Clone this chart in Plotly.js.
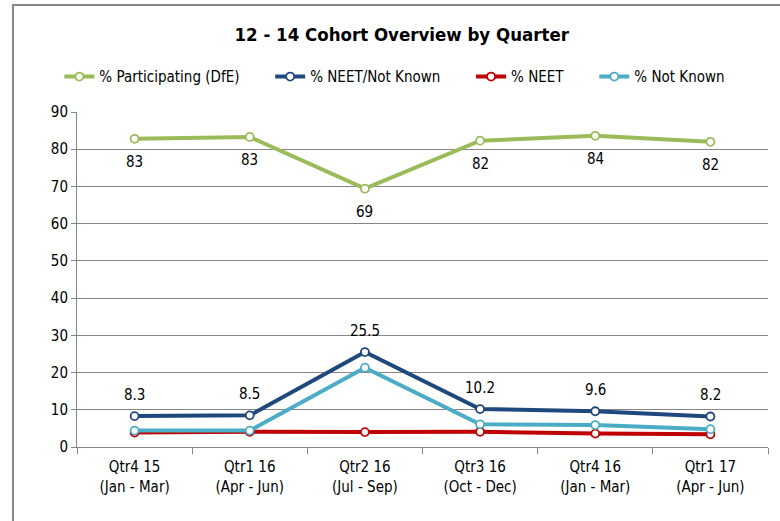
<!DOCTYPE html>
<html>
<head>
<meta charset="utf-8">
<script src="https://cdn.plot.ly/plotly-3.0.1.min.js"></script>
<style>
  body { margin: 0; background: #fff; }
  #chart { width: 780px; height: 521px; }
</style>
</head>
<body>
<div id="chart"></div>
<script>
// Quarters on the x axis
const quarters = [
    "Qtr4 15<br>(Jan - Mar)",
    "Qtr1 16<br>(Apr - Jun)",
    "Qtr2 16<br>(Jul - Sep)",
    "Qtr3 16<br>(Oct - Dec)",
    "Qtr4 16<br>(Jan - Mar)",
    "Qtr1 17<br>(Apr - Jun)"
];

// Series values
const participating = [82.8, 83.3, 69.4, 82.3, 83.6, 82.0];
const participatingLabels = ["83", "83", "69", "82", "84", "82"];
const neetNotKnown = [8.3, 8.5, 25.5, 10.2, 9.6, 8.2];
const neetNotKnownLabels = ["8.3", "8.5", "25.5", "10.2", "9.6", "8.2"];
const neet = [3.9, 4.1, 4.0, 4.1, 3.6, 3.4];
const notKnown = [4.4, 4.4, 21.3, 6.1, 5.9, 4.8];

const font = "'DejaVu Sans Condensed', Arial, sans-serif";
const pad = "\u00a0\u00a0\u00a0\u00a0\u00a0\u00a0";

function lineTrace(y, name, color) {
    return {
        x: quarters,
        y: y,
        name: name,
        type: "scatter",
        mode: "lines+markers",
        line: {color: color, width: 4},
        marker: {symbol: "circle", size: 8, color: "#ffffff", line: {color: color, width: 1.8}},
        cliponaxis: false
    };
}

// data labels placed above / below the points
function labels(y, text, shift) {
    return y.map((v, i) => ({
        x: quarters[i],
        y: v,
        text: text[i],
        showarrow: false,
        yshift: shift,
        font: {family: font, size: 15, color: "#000000"}
    }));
}

const data = [
    lineTrace(participating, "% Participating (DfE)" + pad, "#9BBB59"),
    lineTrace(neetNotKnown, "% NEET/Not Known" + pad, "#1F497D"),
    lineTrace(neet, "% NEET" + pad, "#C00000"),
    lineTrace(notKnown, "% Not Known", "#4BACC6")
];

const layout = {
    width: 780,
    height: 521,
    margin: {l: 77, r: 12, t: 112, b: 74},
    paper_bgcolor: "#ffffff",
    plot_bgcolor: "#ffffff",
    font: {family: font, size: 15, color: "#000000"},
    title: {
        text: "<b>12 - 14 Cohort Overview by Quarter</b>",
        font: {family: font, size: 18.5, color: "#000000"},
        x: 0.515, xanchor: "center",
        y: 0.933, yanchor: "middle"
    },
    showlegend: true,
    legend: {
        orientation: "h",
        x: 0.46, xanchor: "center",
        y: 1.105, yanchor: "middle",
        font: {family: font, size: 15, color: "#000000"},
        itemwidth: 30,
        tracegroupgap: 0
    },
    annotations: labels(participating, participatingLabels, -23)
        .concat(labels(neetNotKnown, neetNotKnownLabels, 21)),
    xaxis: {
        type: "category",
        range: [-0.5, 5.5],
        showgrid: false,
        showline: true,
        linecolor: "#868686",
        linewidth: 1,
        ticks: "outside",
        tickson: "boundaries",
        ticklen: 6,
        tickcolor: "#868686",
        ticklabelstandoff: 6,
        tickfont: {family: font, size: 15},
        fixedrange: true
    },
    yaxis: {
        range: [0, 90],
        dtick: 10,
        showgrid: true,
        gridcolor: "#868686",
        gridwidth: 1,
        zeroline: false,
        showline: true,
        linecolor: "#868686",
        ticks: "outside",
        ticklen: 5,
        tickcolor: "#868686",
        tickfont: {family: font, size: 15},
        fixedrange: true
    },
    shapes: [{
        type: "rect",
        xref: "paper", yref: "paper",
        x0: -64 / 691, x1: 1.2,
        y0: -0.3, y1: (447 - 5) / 335,
        line: {color: "#868686", width: 2},
        fillcolor: "rgba(0,0,0,0)"
    }]
};

Plotly.newPlot("chart", data, layout, {displayModeBar: false, staticPlot: true});
</script>
</body>
</html>
